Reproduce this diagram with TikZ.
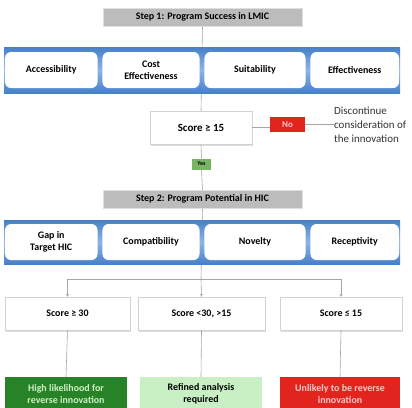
\documentclass[tikz,border=0pt]{standalone}
\usepackage{fontspec}
\setmainfont{Carlito}
\usetikzlibrary{arrows.meta,backgrounds,shadows}
\definecolor{bandA}{RGB}{70,128,200}
\definecolor{bandB}{RGB}{140,180,230}
\definecolor{hdr}{RGB}{188,188,188}
\definecolor{nored}{RGB}{226,36,30}
\definecolor{dgreen}{RGB}{40,130,40}
\definecolor{lgreen}{RGB}{200,240,196}
\definecolor{lgtxt}{RGB}{205,240,195}
\definecolor{pinktxt}{RGB}{255,200,200}
\definecolor{yesg}{RGB}{120,180,100}
\begin{document}
\begin{tikzpicture}[x=1bp,y=-1bp,
  hdrbox/.style={fill=hdr,draw=gray!25,minimum width=199bp,minimum height=18bp,inner sep=0pt,font=\bfseries\fontsize{10}{12}\selectfont},
  crit/.style={fill=white,rounded corners=6bp,minimum height=36bp,inner sep=1bp,align=center,font=\bfseries\fontsize{10}{12}\selectfont},
  scorebox/.style={fill=white,draw=gray!35,minimum height=33bp,inner sep=0pt,font=\bfseries\fontsize{10}{12}\selectfont,
     drop shadow={opacity=0.25,shadow xshift=0.8bp,shadow yshift=-1.5bp}},
  outbox/.style={minimum height=34bp,inner sep=0pt,align=center,font=\bfseries\fontsize{10}{12}\selectfont},
  conn/.style={draw=gray!70,line width=0.6bp},
  arr/.style={conn,-{Stealth[length=3bp,width=3bp]}}
]
\useasboundingbox (0,0) rectangle (412,408);

% Step 1
\node[hdrbox] (h1) at (202.5,17) {Step 1: Program Success in LMIC};

\shade[top color=bandA,bottom color=bandA,middle color=bandB] (4,47) rectangle (400,93);
\node[crit,minimum width=92.5bp] (c1) at (51.25,70) {Accessibility};
\node[crit,minimum width=97bp] (c2) at (151,70) {Cost\\Effectiveness};
\node[crit,minimum width=101bp] (c3) at (255,70) {Suitability};
\node[crit,minimum width=88.5bp] (c4) at (354.75,70) {Effectiveness};

\node[scorebox,minimum width=102bp,font=\bfseries\fontsize{11}{13}\selectfont] (sc) at (201,127.5) {Score ≥ 15};
\node[fill=nored,minimum width=35bp,minimum height=15bp,inner sep=0pt,text=pinktxt,font=\bfseries\fontsize{9}{10}\selectfont] (no) at (287.5,124.5) {No};
\node[anchor=north west,align=left,inner sep=0pt,text=black!80,font=\fontsize{11}{14}\selectfont] (disc) at (334,107) {Discontinue\\consideration of\\the innovation};
\node[fill=yesg,minimum width=19bp,minimum height=11bp,inner sep=0pt,font=\bfseries\fontsize{6}{7}\selectfont] (yes) at (201.5,164) {Yes};

% Step 2
\node[hdrbox] (h2) at (202.5,199) {Step 2: Program Potential in HIC};

\shade[top color=bandA,bottom color=bandA,middle color=bandB] (4,220) rectangle (400,264);
\node[crit,minimum width=92.5bp] (d1) at (51.25,242) {Gap in\\Target HIC};
\node[crit,minimum width=97bp] (d2) at (151,242) {Compatibility};
\node[crit,minimum width=101bp] (d3) at (255,242) {Novelty};
\node[crit,minimum width=88.5bp] (d4) at (354.75,242) {Receptivity};

\coordinate (split) at (201,279);

\node[scorebox,minimum width=125bp] (s1) at (67.5,313.5) {Score ≥ 30};
\node[scorebox,minimum width=127bp] (s2) at (201.5,313.5) {Score <30, >15};
\node[scorebox,minimum width=122bp] (s3) at (341,313.5) {Score ≤ 15};

\node[outbox,fill=dgreen,text=lgtxt,minimum width=122bp] (o1) at (66,394) {High likelihood for\\reverse innovation};
\node[outbox,fill=lgreen,text=black,minimum width=122bp] (o2) at (201,394) {Refined analysis\\required};
\node[outbox,fill=nored,text=pinktxt,minimum width=120bp] (o3) at (340,394) {Unlikely to be reverse\\innovation};

\begin{scope}[on background layer]
\draw[conn] (h1.south) -- (sc.north);
\draw[conn] (sc.south) -- (yes.north);
\draw[conn] (yes.south) -- (h2.north);
\draw[conn] (h2.south) -- (split);
\end{scope}
\draw[conn] (sc.east) -- (sc.east -| no.west);
\draw[conn] (no.east) -- (no.east -| disc.west);
\draw[arr] (split) -| (s1.north);
\draw[arr] (split) -- (s2.north);
\draw[arr] (split) -| (s3.north);
\draw[conn] (s1.south) -- (o1.north);
\draw[conn] (s2.south) -- (o2.north);
\draw[conn] (s3.south) -- (o3.north);
\end{tikzpicture}
\end{document}
